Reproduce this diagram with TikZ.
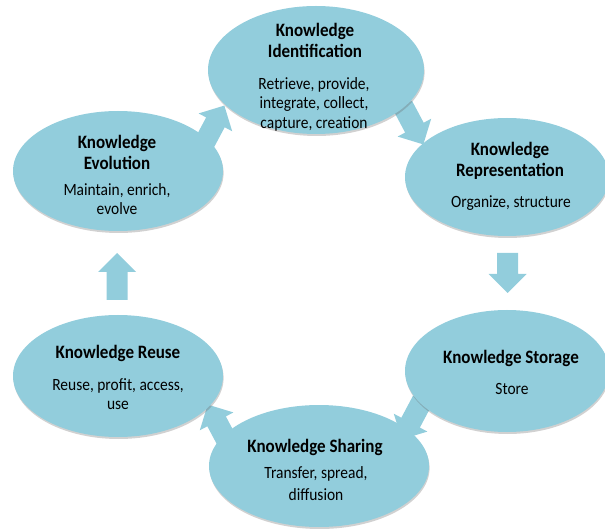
\documentclass[tikz,border=0pt]{standalone}
\usepackage{fontspec}
\setmainfont{Carlito}[FakeStretch=0.9]
\usetikzlibrary{shapes.geometric,shadows}
\definecolor{cyc}{HTML}{92CDDC}
\tikzset{
  blob/.style={ellipse, fill=cyc, draw=none, inner sep=0pt,
    drop shadow={shadow xshift=0.6pt, shadow yshift=-2pt, opacity=0.3, fill=black!60}},
  ttl/.style={font=\fontsize{18.9}{21}\selectfont\bfseries, align=center, inner sep=0pt, anchor=north, text=black},
  bdy/.style={font=\fontsize{17.2}{19.5}\selectfont, align=center, inner sep=0pt, anchor=north, text=black},
  blk/.style={fill=cyc}
}
\newcommand{\blockarr}[3]{\fill[blk, shift={(#1)}, rotate=#2]
  ({-0.5*#3},-10.5) -- ({0.5*#3-19},-10.5) -- ({0.5*#3-19},-19) -- ({0.5*#3},0)
  -- ({0.5*#3-19},19) -- ({0.5*#3-19},10.5) -- ({-0.5*#3},10.5) -- cycle;}
\begin{document}
\begin{tikzpicture}[x=1pt,y=1pt]
\useasboundingbox (0,0) rectangle (605,528);
% block arrows (partly hidden under the ellipses)
\blockarr{214,403}{62}{44}
\blockarr{413,403}{-62}{44}
\blockarr{507.5,255}{-90}{40}
\blockarr{412,108}{-118}{44}
\blockarr{218,104}{118}{44}
\blockarr{117,251.5}{90}{47}
% ellipses
\node[blob, minimum width=216pt, minimum height=128pt] (ide) at (316,458) {};
\node[blob, minimum width=204pt, minimum height=118pt] (rep) at (507,351) {};
\node[blob, minimum width=204pt, minimum height=122pt] (sto) at (507,157) {};
\node[blob, minimum width=220pt, minimum height=122pt] (sha) at (319,62) {};
\node[blob, minimum width=210pt, minimum height=122pt] (reu) at (118,152) {};
\node[blob, minimum width=210pt, minimum height=120pt] (evo) at (118,357) {};
% texts
\node[ttl] (idet) at (315,505) {Knowledge\\Identification};
\node[bdy] (ideb) at (314,451) {Retrieve, provide,\\integrate, collect,\\capture, creation};
\node[ttl] (rept) at (510,386) {Knowledge\\Representation};
\node[bdy] (repb) at (511,333) {Organize, structure};
\node[ttl] (stot) at (511,178) {Knowledge Storage};
\node[bdy] (stob) at (512,145) {Store};
\node[ttl] (shat) at (315,89) {Knowledge Sharing};
\node[bdy, font=\fontsize{17.2}{22}\selectfont] (shab) at (316,62) {Transfer, spread,\\diffusion};
\node[ttl] (reut) at (118,183) {Knowledge Reuse};
\node[bdy] (reub) at (118,150) {Reuse, profit, access,\\use};
\node[ttl] (evot) at (117,393) {Knowledge\\Evolution};
\node[bdy] (evob) at (117,345) {Maintain, enrich,\\evolve};
\end{tikzpicture}
\end{document}
